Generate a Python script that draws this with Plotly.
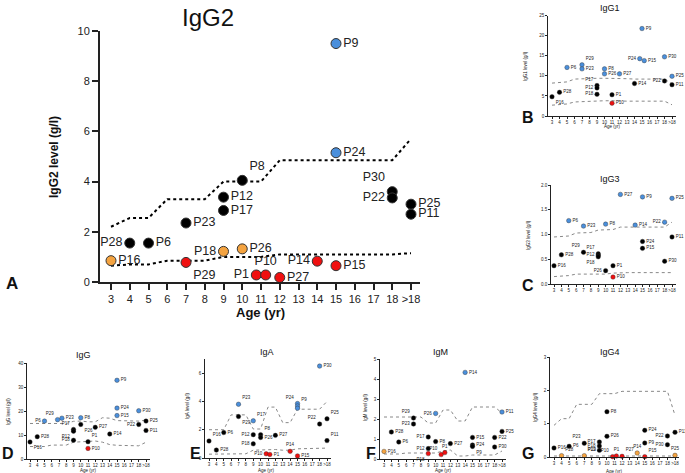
import plotly.graph_objects as go

W, H = 685, 473

# ── Data ──────────────────────────────────────────────────────────────────────
# age category ">18" is drawn at position 19
AGES = list(range(3, 20))
AGE_LABELS = [str(a) for a in range(3, 19)] + [">18"]

# group codes: n = normal, h = high, l = low, b = borderline
A_ID = ["P16", "P28", "P6", "P23", "P29", "P12", "P17", "P18", "P8", "P26", "P1",
        "P10", "P27", "P14", "P9", "P24", "P15", "P30", "P22", "P25", "P11"]
A_AGE = [3, 4, 5, 7, 7, 9, 9, 9, 10, 10, 10.75, 11.25, 12, 14, 15, 15, 15, 18, 18, 19, 19]
A_VAL = [0.85, 1.55, 1.55, 2.35, 0.78, 3.38, 2.85, 1.22, 4.05, 1.32, 0.28,
         0.28, 0.18, 0.83, 9.5, 5.15, 0.65, 3.6, 3.35, 3.1, 2.7]
A_GRP = ["b", "n", "n", "n", "l", "n", "n", "b", "n", "b", "l",
         "l", "l", "l", "h", "h", "l", "n", "n", "n", "n"]
A_UPPER = [2.2, 2.55, 2.55, 3.3, 3.3, 3.3, 4.0, 4.0, 4.0, 4.85, 4.85, 4.85, 4.85, 4.85, 4.85, 4.85, 5.7]
A_LOWER = [0.65, 0.7, 0.7, 0.85, 0.85, 0.85, 1.0, 1.0, 1.0, 1.1, 1.1, 1.1, 1.1, 1.1, 1.1, 1.1, 1.15]

B_ID = ["P16", "P28", "P6", "P29", "P23", "P8", "P26", "P27", "P17", "P12", "P18",
        "P1", "P10", "P14", "P9", "P24", "P15", "P30", "P22", "P25", "P11"]
B_AGE = [3, 4, 5, 7, 7, 10, 10, 12, 9, 9, 9, 11, 11, 14, 15, 14.7, 15.3, 18, 18, 19, 19]
B_VAL = [4.8, 5.9, 12.1, 12.75, 11.75, 11.75, 10.5, 10.5, 7.6, 7.0, 5.4,
         5.3, 3.2, 8.1, 21.8, 14.3, 13.8, 14.75, 8.75, 9.9, 7.8]
B_GRP = ["n", "n", "h", "h", "h", "h", "h", "h", "n", "n", "n",
         "n", "l", "n", "h", "h", "h", "h", "n", "h", "n"]
B_UPPER = [8.2, 8.4, 8.5, 9.2, 9.3, 9.3, 9.4, 9.4, 9.4, 9.3, 9.3, 9.2, 9.2, 9.2, 9.2, 9.2, 8.0]
B_LOWER = [2.7, 2.9, 3.0, 3.5, 3.6, 3.6, 3.7, 3.8, 3.8, 3.7, 3.7, 3.7, 3.7, 3.7, 3.7, 3.7, 2.8]

C_ID = ["P16", "P28", "P6", "P23", "P29", "P17", "P12", "P18", "P8", "P26", "P1",
        "P10", "P27", "P14", "P9", "P24", "P15", "P22", "P30", "P25", "P11"]
C_AGE = [3, 4, 5, 7, 7, 9, 9, 9, 10, 10, 11, 11, 12, 14, 15, 15, 15, 18, 18, 19, 19]
C_VAL = [0.37, 0.59, 1.28, 1.17, 0.64, 0.61, 0.58, 0.55, 1.21, 0.27, 0.37,
         0.14, 1.81, 1.19, 1.76, 0.86, 0.72, 1.25, 0.46, 1.73, 0.95]
C_GRP = ["n", "n", "h", "h", "n", "n", "n", "n", "h", "n", "n",
         "l", "h", "h", "h", "n", "n", "h", "n", "h", "n"]
C_UPPER = [0.95, 0.96, 0.97, 1.03, 1.04, 1.04, 1.09, 1.1, 1.1, 1.15, 1.15, 1.15, 1.15, 1.15, 1.15, 1.15, 1.25]
C_LOWER = [0.15, 0.16, 0.17, 0.2, 0.2, 0.2, 0.2, 0.2, 0.22, 0.23, 0.23, 0.23, 0.23, 0.23, 0.23, 0.23, 0.23]

D_ID = ["P16", "P28", "P6", "P29", "P23", "P17", "P12", "P18", "P8", "P26", "P27",
        "P1", "P10", "P14", "P9", "P24", "P15", "P30", "P22", "P25", "P11"]
D_AGE = [3, 4, 5, 6.8, 7.4, 9, 9, 9, 10, 10, 12, 11, 11, 14, 15, 15, 15, 18, 18, 19, 19]
D_VAL = [7.1, 9.3, 15.8, 16.4, 17.0, 12.3, 11.6, 7.8, 17.2, 14.4, 13.2,
         7.2, 4.4, 10.4, 32.8, 21.2, 18.1, 20.1, 14.4, 15.8, 11.9]
D_GRP = ["n", "n", "h", "h", "h", "n", "n", "n", "h", "n", "n",
         "n", "l", "n", "h", "h", "h", "h", "n", "n", "n"]
D_UPPER = [14.8, 14.8, 14.8, 14.8, 14.8, 14.8, 15.7, 15.8, 15.5, 15.5, 17.2, 17.0, 16.0, 15.9, 15.8, 15.8, 16.2]
D_LOWER = [5.2, 5.2, 5.2, 5.8, 5.8, 5.8, 7.0, 7.1, 7.2, 7.5, 7.0, 6.0, 5.7, 5.6, 5.5, 5.5, 7.0]

E_ID = ["P16", "P28", "P6", "P23", "P29", "P17", "P12", "P18", "P8", "P26", "P27",
        "P10", "P1", "P14", "P15", "P24", "P9", "", "P30", "P22", "P25", "P11"]
E_AGE = [3, 4, 5, 7, 7, 9, 9, 9, 10, 10, 12, 10.75, 11.25, 14, 15, 15, 15, 15, 18, 18, 19, 19]
E_VAL = [1.2, 0.56, 1.8, 3.8, 2.93, 2.63, 1.65, 1.0, 1.65, 1.45, 1.6,
         0.3, 0.25, 0.47, 0.15, 3.85, 3.68, 3.52, 6.5, 2.4, 2.77, 1.23]
E_GRP = ["n", "n", "n", "h", "n", "h", "n", "n", "n", "n", "n",
         "l", "l", "l", "l", "h", "h", "h", "h", "n", "n", "n"]
E_UPPER = [2.0, 2.0, 2.0, 3.05, 3.05, 3.05, 2.05, 2.05, 3.6, 3.6, 2.5, 2.5, 3.45, 3.45, 3.45, 3.45, 4.0]
E_LOWER = [0.27, 0.27, 0.28, 0.28, 0.29, 0.3, 0.55, 0.58, 0.6, 0.6, 0.55, 0.55, 0.65, 0.65, 0.65, 0.65, 0.7]

F_ID = ["P16", "P28", "P6", "P29", "P23", "P17", "P12", "P18", "P26", "P8", "P10",
        "P1", "P27", "P14", "P15", "P24", "P9", "P22", "P30", "P11", "P25"]
F_AGE = [3, 4, 5, 7, 7, 9, 9, 9, 10, 10, 10.75, 11.25, 12, 14, 15, 15, 15, 18, 18, 19, 19]
F_VAL = [0.38, 1.35, 0.85, 2.05, 1.75, 1.1, 0.52, 0.27, 2.28, 0.87, 0.22,
         0.32, 0.77, 4.33, 1.08, 0.7, 0.63, 1.08, 0.6, 2.35, 1.38]
F_GRP = ["b", "n", "n", "n", "n", "n", "n", "l", "h", "n", "l",
         "l", "n", "h", "n", "n", "n", "n", "n", "h", "n"]
F_UPPER = [2.1, 2.1, 2.1, 2.1, 2.1, 2.1, 1.8, 1.8, 2.45, 2.45, 1.9, 1.9, 2.6, 2.6, 2.6, 2.6, 2.3]
F_LOWER = [0.25, 0.25, 0.25, 0.3, 0.3, 0.3, 0.3, 0.3, 0.4, 0.45, 0.15, 0.15, 0.2, 0.2, 0.2, 0.2, 0.4]

G_ID = ["P16", "P28", "P6", "P23", "P29", "P17", "P18", "P12", "P8", "P26", "P10",
        "P1", "P27", "P14", "P15", "P9", "P24", "P22", "P30", "P11", "P25"]
G_AGE = [3, 4, 5, 7, 7, 9, 9, 9, 10, 10, 10.75, 11.25, 12, 14, 15, 15, 15, 18, 18, 19, 19]
G_VAL = [0.27, 0.04, 0.32, 0.41, 0.04, 0.45, 0.33, 0.2, 1.36, 0.62, 0.01,
         0.03, 0.02, 0.12, 0.01, 0.42, 0.8, 0.63, 0.37, 0.74, 0.05]
G_GRP = ["n", "b", "n", "n", "b", "n", "n", "n", "n", "n", "l",
         "l", "l", "b", "l", "n", "n", "n", "n", "n", "b"]
G_UPPER = [0.95, 1.15, 1.15, 1.58, 1.58, 1.58, 1.9, 1.9, 1.9, 1.97, 1.97, 1.97, 1.97, 1.97, 1.97, 1.97, 1.25]
G_LOWER = [0.03] * 17

# ── Label placement (style, not data) ─────────────────────────────────────────
A_POS = ["middle right", "middle left", "middle right", "middle right", "bottom right",
         "middle right", "middle right", "middle left", "top right", "middle right",
         "middle left", "top center", "middle right", "middle left", "middle right",
         "middle right", "middle right", "top left", "middle left", "middle right", "middle right"]
B_POS = ["bottom right", "middle right", "middle right", "top right", "middle right",
         "middle right", "middle right", "middle right", "top left", "middle left", "middle left",
         "middle right", "middle right", "middle right", "middle right", "middle left",
         "middle right", "middle right", "middle left", "middle right", "middle right"]
C_POS = ["middle right", "middle right", "middle right", "middle right", "top left",
         "top left", "middle left", "bottom left", "middle right", "middle left", "middle right",
         "middle right", "middle right", "middle right", "middle right", "middle right",
         "middle right", "middle left", "middle right", "middle right", "middle right"]
D_POS = ["bottom right", "middle right", "middle left", "top left", "middle right",
         "top left", "bottom left", "middle left", "middle right", "bottom right", "middle right",
         "top right", "middle right", "middle right", "middle right", "middle right",
         "middle right", "middle right", "middle left", "middle right", "middle right"]
E_POS = ["top right", "middle right", "middle right", "top right", "bottom right",
         "top right", "middle left", "middle left", "top right", "middle right", "middle right",
         "middle left", "middle right", "top center", "middle right", "top left",
         "top right", "middle right", "middle right", "top left", "top right", "top right"]
F_POS = ["middle right", "middle right", "middle right", "top left", "middle left",
         "middle left", "middle left", "bottom left", "middle left", "middle right", "top left",
         "top center", "middle right", "middle right", "middle right", "middle right",
         "bottom right", "middle right", "middle right", "middle right", "middle right"]
G_POS = ["middle right", "top right", "middle right", "top left", "top right",
         "middle left", "middle left", "middle left", "middle right", "middle right", "top left",
         "top center", "top right", "top center", "top right", "middle right",
         "middle right", "middle left", "middle left", "middle right", "top center"]

COLORS = {"n": "#000000", "h": "#4A8FDC", "l": "#F01010", "b": "#F4A340"}
FONT = "Arial, Liberation Sans, sans-serif"

fig = go.Figure()
layout = {}
annotations = []


def add_panel(i, ids, ages, vals, grps, upper, lower, pos, box, yr, ydtick,
              big=False, yfmt=None):
    """box = (axis_px, first_tick_px, last_tick_px, top_px, bottom_px)"""
    left, p3, p19, top, bottom = box
    step = (p19 - p3) / 16
    right = p19 + 0.5 * step
    sfx = "" if i == 1 else str(i)
    xa, ya = "x" + sfx, "y" + sfx

    line_w = 2 if big else 1
    for ref in (upper, lower):
        fig.add_trace(go.Scatter(
            x=AGES, y=ref, mode="lines", xaxis=xa, yaxis=ya, hoverinfo="skip",
            line=dict(color="#000" if big else "#888", width=line_w, dash="dot"),
            cliponaxis=False))
    fig.add_trace(go.Scatter(
        x=ages, y=vals, text=ids, mode="markers+text", textposition=pos,
        xaxis=xa, yaxis=ya, cliponaxis=False,
        textfont=dict(size=12.5 if big else 4.5, color="#222", family=FONT),
        marker=dict(size=10 if big else 4.5,
                    color=[COLORS[g] for g in grps],
                    line=dict(color="#333", width=1 if big else 0.4))))

    tick_font = dict(size=11 if big else 4.5, color="#222", family=FONT)
    common = dict(
        showline=True, linecolor="#222", linewidth=2 if big else 0.7,
        ticks="outside", ticklen=6 if big else 2, tickwidth=2 if big else 0.6,
        tickcolor="#222", tickfont=tick_font, showgrid=False, zeroline=False,
        fixedrange=True, tickangle=0, automargin=False)
    layout["xaxis" + sfx] = dict(
        domain=[left / W, right / W], range=[3 - (p3 - left) / step, 19.5],
        anchor=ya, tickmode="array", tickvals=AGES, ticktext=AGE_LABELS, **common)
    layout["yaxis" + sfx] = dict(
        domain=[1 - bottom / H, 1 - top / H], range=yr, anchor=xa, dtick=ydtick,
        tickformat=yfmt, **common)


# ── Panels ────────────────────────────────────────────────────────────────────
add_panel(1, A_ID, A_AGE, A_VAL, A_GRP, A_UPPER, A_LOWER, A_POS,
          (100, 111, 411, 31, 282), [0, 10], 2, big=True)
add_panel(2, B_ID, B_AGE, B_VAL, B_GRP, B_UPPER, B_LOWER, B_POS,
          (548, 552, 672, 15.7, 116), [0, 25], 5)
add_panel(3, C_ID, C_AGE, C_VAL, C_GRP, C_UPPER, C_LOWER, C_POS,
          (551, 554, 672, 185, 284), [0, 2], 0.5, yfmt=".1f")
add_panel(4, D_ID, D_AGE, D_VAL, D_GRP, D_UPPER, D_LOWER, D_POS,
          (27, 30, 146, 363, 459), [0, 40], 10)
add_panel(5, E_ID, E_AGE, E_VAL, E_GRP, E_UPPER, E_LOWER, E_POS,
          (205, 209, 327, 359, 458), [0, 7], 2)
add_panel(6, F_ID, F_AGE, F_VAL, F_GRP, F_UPPER, F_LOWER, F_POS,
          (380, 384, 502, 359, 459), [0, 5], 1)
add_panel(7, G_ID, G_AGE, G_VAL, G_GRP, G_UPPER, G_LOWER, G_POS,
          (550, 554, 675, 357, 457), [0, 3], 1)


def note(text, x, y, size, bold=False, angle=0):
    annotations.append(dict(
        text=f"<b>{text}</b>" if bold else text, x=x / W, y=1 - y / H,
        xref="paper", yref="paper", xanchor="center", yanchor="middle",
        showarrow=False, textangle=angle,
        font=dict(size=size, color="#111", family=FONT)))


# titles
note("IgG2", 208, 18, 24)
note("IgG1", 610, 8, 9)
note("IgG3", 610, 179, 9)
note("IgG", 83, 355, 9)
note("IgA", 267, 352, 9)
note("IgM", 440, 352, 9)
note("IgG4", 610, 352, 9)

# axis titles
note("IgG2 level (g/l)", 54, 157, 12, bold=True, angle=-90)
note("Age (yr)", 260, 312, 13, bold=True)
note("IgG1 level (g/l)", 525, 66, 4.5, angle=-90)
note("Age (yr)", 612, 127, 4.5)
note("IgG3 level (g/l)", 528, 235, 4.5, angle=-90)
note("IgG level (g/l)", 8, 411, 4.5, angle=-90)
note("Age (yr)", 88, 470, 4.5)
note("IgA level (g/l)", 187, 405, 4.5, angle=-90)
note("Age (yr)", 266, 470, 4.5)
note("IgM level (g/l)", 365, 407, 4.5, angle=-90)
note("Age (yr)", 443, 470, 4.5)
note("IgG4 level (g/l)", 535, 407, 4.5, angle=-90)
note("Age (yr)", 614, 471, 4.5)

# panel letters
note("A", 12, 283, 17, bold=True)
note("B", 528, 117, 16, bold=True)
note("C", 528, 285, 16, bold=True)
note("D", 8, 453, 16, bold=True)
note("E", 195, 453, 16, bold=True)
note("F", 371, 453, 16, bold=True)
note("G", 528, 453, 16, bold=True)

fig.update_layout(
    width=W, height=H, margin=dict(l=0, r=0, t=0, b=0),
    plot_bgcolor="white", paper_bgcolor="white", showlegend=False,
    font=dict(family=FONT), annotations=annotations, **layout)

# the page's default 8px body margin would shift the whole figure
fig.write_html("out.html", config={"displayModeBar": False},
               post_script="document.body.style.margin = '0';")
